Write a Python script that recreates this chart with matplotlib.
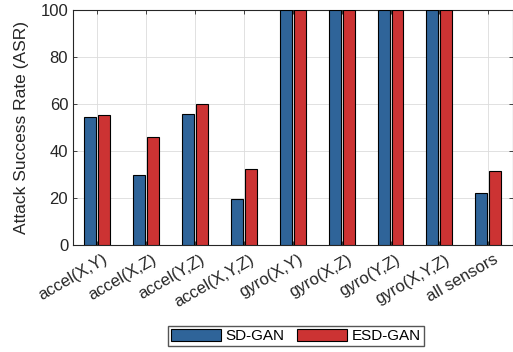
import matplotlib.pyplot as plt
import matplotlib.transforms as mtransforms
import numpy as np

categories = ['accel(X,Y)', 'accel(X,Z)', 'accel(Y,Z)', 'accel(X,Y,Z)',
              'gyro(X,Y)', 'gyro(X,Z)', 'gyro(Y,Z)', 'gyro(X,Y,Z)', 'all sensors']
sd_gan = [54.5, 29.8, 55.7, 19.6, 100, 100, 100, 100, 22.1]
esd_gan = [55.3, 46.0, 60.0, 32.3, 100, 100, 100, 100, 31.5]

plt.rcParams['font.family'] = ['Liberation Sans', 'DejaVu Sans']

fig = plt.figure(figsize=(5.13, 3.52), dpi=100)
ax = fig.add_axes([0.1423, 0.304, 0.857, 0.6676])

x = np.arange(1, len(categories) + 1)
w = 0.245
ax.bar(x - 0.143, sd_gan, w, color='#2F6499', edgecolor='black', linewidth=0.8,
       label='SD-GAN', zorder=3)
ax.bar(x + 0.143, esd_gan, w, color='#CC3333', edgecolor='black', linewidth=0.8,
       label='ESD-GAN', zorder=3)

ax.set_xlim(0.5, 9.5)
ax.set_ylim(0, 100)
ax.set_yticks([0, 20, 40, 60, 80, 100])
ax.set_xticks(x)
ax.set_xticklabels(categories, rotation=30, ha='right', rotation_mode='anchor')
ax.tick_params(direction='in', top=True, right=True, labelsize=12,
               colors='#262626', length=3, width=0.6)
ax.tick_params(axis='x', pad=5)
# shift rotated labels a little to the right, like the original
shift = mtransforms.ScaledTranslation(0.05, 0, fig.dpi_scale_trans)
for lbl in ax.get_xticklabels():
    lbl.set_transform(lbl.get_transform() + shift)
ax.grid(color='#dcdcdc', linewidth=0.6, zorder=0)
ax.set_axisbelow(True)
for s in ax.spines.values():
    s.set_linewidth(0.8)
    s.set_color('#262626')
ax.set_ylabel('Attack Success Rate (ASR)', fontsize=12.5, color='#262626', labelpad=8)

fig.legend(loc='center', bbox_to_anchor=(0.577, 0.045), ncol=2, fontsize=11,
           fancybox=False, edgecolor='#555555', framealpha=1, handlelength=3.3,
           handleheight=0.85, borderpad=0.2, columnspacing=0.8, handletextpad=0.3)

fig.savefig('out.png', dpi=100)
